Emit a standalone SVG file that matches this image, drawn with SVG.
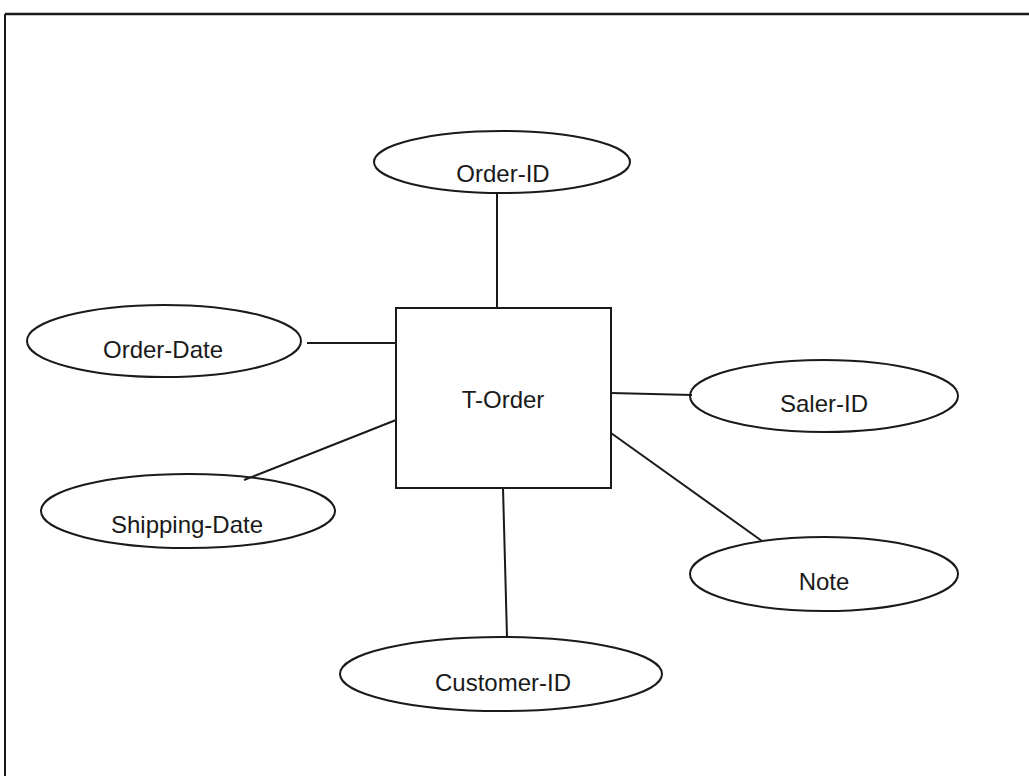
<svg xmlns="http://www.w3.org/2000/svg" width="1029" height="776" viewBox="0 0 1029 776">
<style>
.shape{fill:none;stroke:#1a1a1a;stroke-width:2}
.conn line{stroke:#1a1a1a;stroke-width:2}
text{font-family:"Liberation Sans",Arial,sans-serif;font-size:24px;fill:#1a1a1a;text-anchor:middle}
</style>
<rect width="1029" height="776" fill="#ffffff"/>
<g id="frame">
<line x1="5" y1="14" x2="1029" y2="14" stroke="#1a1a1a" stroke-width="2.5"/>
<line x1="5" y1="14" x2="5" y2="776" stroke="#1a1a1a" stroke-width="2"/>
</g>
<g class="conn" id="connectors">
<line x1="497" y1="193" x2="497" y2="308"/>
<line x1="307" y1="343" x2="396" y2="343"/>
<line x1="244" y1="480" x2="396" y2="420"/>
<line x1="611" y1="393" x2="692" y2="395"/>
<line x1="611" y1="433" x2="762" y2="541"/>
<line x1="503" y1="488" x2="507" y2="637"/>
</g>
<g id="t-order">
<rect class="shape" x="396" y="308" width="215" height="180"/>
<text x="503" y="408">T-Order</text>
</g>
<g id="order-id">
<ellipse class="shape" cx="502" cy="162" rx="128" ry="31"/>
<text x="503" y="182">Order-ID</text>
</g>
<g id="order-date">
<ellipse class="shape" cx="164" cy="341" rx="137" ry="36"/>
<text x="163" y="358">Order-Date</text>
</g>
<g id="shipping-date">
<ellipse class="shape" cx="188" cy="511" rx="147" ry="37"/>
<text x="187" y="533">Shipping-Date</text>
</g>
<g id="saler-id">
<ellipse class="shape" cx="824" cy="396" rx="134" ry="36"/>
<text x="824" y="412">Saler-ID</text>
</g>
<g id="note">
<ellipse class="shape" cx="824" cy="574" rx="134" ry="37"/>
<text x="824" y="590">Note</text>
</g>
<g id="customer-id">
<ellipse class="shape" cx="501" cy="674" rx="161" ry="37"/>
<text x="503" y="691">Customer-ID</text>
</g>
</svg>
